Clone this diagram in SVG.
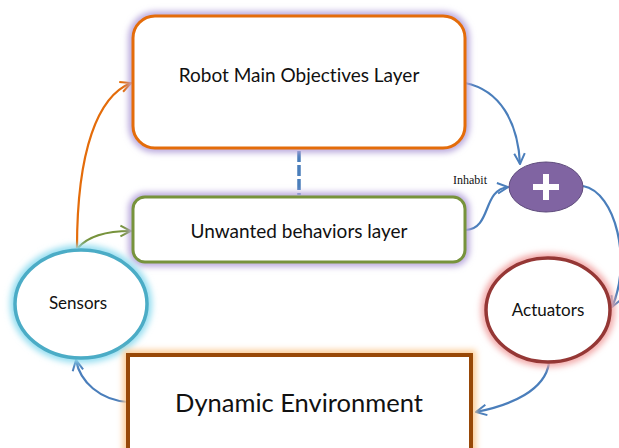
<svg xmlns="http://www.w3.org/2000/svg" width="619" height="448" viewBox="0 0 619 448">
  <style>
    .lbl { font-family: Lato, "Open Sans", "Liberation Sans", sans-serif; fill: #111; text-anchor: middle; font-variant-ligatures: none; }
    .conn { fill: none; stroke-width: 2.2; }
    .blue { stroke: #4A7EBB; }
    .orange { stroke: #E46C0A; }
    .green { stroke: #77933C; }
  </style>
  <defs>
    <filter id="glow" x="-20%" y="-20%" width="140%" height="140%">
      <feGaussianBlur stdDeviation="3"/>
    </filter>
    <marker id="arrBlue" viewBox="0 0 10 10" refX="9" refY="5" markerWidth="6" markerHeight="6" orient="auto" markerUnits="strokeWidth">
      <path d="M1,1 L9,5 L1,9" fill="none" stroke="#4A7EBB" stroke-width="1.5"/>
    </marker>
    <marker id="arrOrange" viewBox="0 0 10 10" refX="9" refY="5" markerWidth="6" markerHeight="6" orient="auto" markerUnits="strokeWidth">
      <path d="M1,1 L9,5 L1,9" fill="none" stroke="#E46C0A" stroke-width="1.5"/>
    </marker>
    <marker id="arrGreen" viewBox="0 0 10 10" refX="9" refY="5" markerWidth="6" markerHeight="6" orient="auto" markerUnits="strokeWidth">
      <path d="M1,1 L9,5 L1,9" fill="none" stroke="#77933C" stroke-width="1.5"/>
    </marker>
  </defs>

  <rect width="619" height="448" fill="#ffffff"/>

  <!-- connectors -->
  <g id="connectors">
    <path class="conn orange" d="M77,248 C77,150 98,96 131,83" marker-end="url(#arrOrange)"/>
    <path class="conn green" d="M78,248 C88,236 106,231 131,231" marker-end="url(#arrGreen)"/>
    <path class="conn blue" d="M465,83 C500,90 518,122 520,164" marker-end="url(#arrBlue)"/>
    <path class="conn blue" d="M466,230 C492,228 482,190 508,187" marker-end="url(#arrBlue)"/>
    <path class="conn blue" d="M583,186 C616,192 632,262 612,307" marker-end="url(#arrBlue)"/>
    <path class="conn blue" d="M549,363 C545,390 512,405 476,412" marker-end="url(#arrBlue)"/>
    <path class="conn blue" d="M128,402 C100,400 80,382 76,360" marker-end="url(#arrBlue)"/>
    <line x1="299" y1="151" x2="299" y2="195" stroke="#4A7EBB" stroke-width="3.5" stroke-dasharray="11 3"/>
    <text x="453" y="184" font-family="'Liberation Serif', serif" font-size="12" fill="#111">Inhabit</text>
  </g>

  <!-- top layer -->
  <g id="objectives">
    <rect x="133" y="16" width="332" height="132" rx="22" fill="none" stroke="#B7A6DC" stroke-width="9" filter="url(#glow)"/>
    <rect x="133" y="16" width="332" height="132" rx="22" fill="#ffffff" stroke="#E46C0A" stroke-width="3"/>
    <text class="lbl" x="299" y="82" font-size="19">Robot Main Objectives Layer</text>
  </g>

  <!-- middle layer -->
  <g id="unwanted">
    <rect x="133" y="197" width="332" height="65" rx="12" fill="none" stroke="#B7A6DC" stroke-width="9" filter="url(#glow)"/>
    <rect x="133" y="197" width="332" height="65" rx="12" fill="#ffffff" stroke="#77933C" stroke-width="3"/>
    <text class="lbl" x="299" y="238" font-size="19">Unwanted behaviors layer</text>
  </g>

  <!-- summing junction -->
  <g id="plus">
    <ellipse cx="546" cy="187" rx="37" ry="25" fill="#8064A2" stroke="#5E4B7C" stroke-width="1"/>
    <path d="M546,174 V200 M533,187 H559" stroke="#ffffff" stroke-width="6"/>
  </g>

  <!-- sensors -->
  <g id="sensors">
    <ellipse cx="81" cy="304" rx="66" ry="54" fill="none" stroke="#93DDF0" stroke-width="10" filter="url(#glow)"/>
    <ellipse cx="81" cy="304" rx="66" ry="54" fill="#ffffff" stroke="#4BACC6" stroke-width="3.5"/>
    <text class="lbl" x="78" y="309" font-size="17">Sensors</text>
  </g>

  <!-- actuators -->
  <g id="actuators">
    <ellipse cx="548" cy="310" rx="62" ry="52" fill="none" stroke="#F2A7A7" stroke-width="10" filter="url(#glow)"/>
    <ellipse cx="548" cy="310" rx="62" ry="52" fill="#ffffff" stroke="#953735" stroke-width="3.5"/>
    <text class="lbl" x="548" y="316" font-size="17">Actuators</text>
  </g>

  <!-- environment -->
  <g id="environment">
    <rect x="128" y="355" width="343" height="110" fill="none" stroke="#FBCB94" stroke-width="10" filter="url(#glow)"/>
    <rect x="128" y="355" width="343" height="110" fill="#ffffff" stroke="#984807" stroke-width="4"/>
    <text class="lbl" x="299" y="412" font-size="25.5">Dynamic Environment</text>
  </g>
</svg>
